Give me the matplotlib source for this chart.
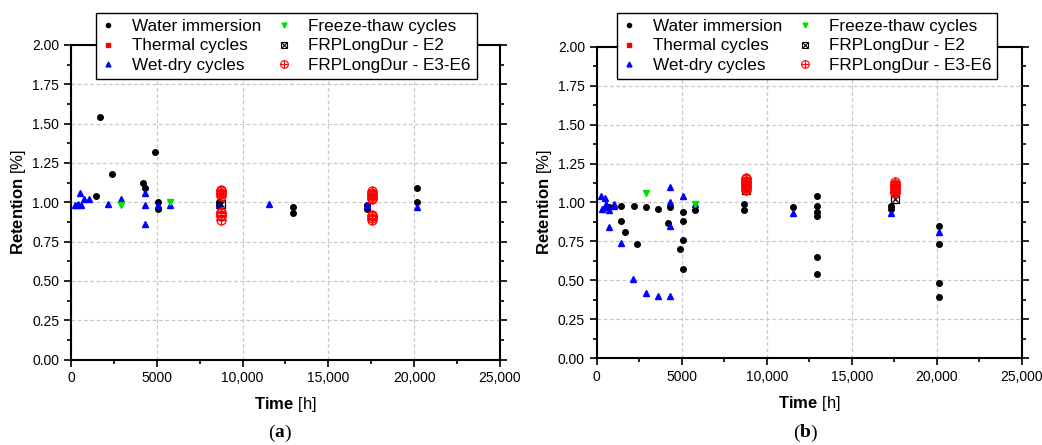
import matplotlib
matplotlib.use("Agg")
import matplotlib.pyplot as plt
from matplotlib.ticker import MultipleLocator, FuncFormatter
from matplotlib.legend_handler import HandlerTuple

plt.rcParams['font.family'] = ['Liberation Sans', 'DejaVu Sans']
plt.rcParams['mathtext.fontset'] = 'custom'
plt.rcParams['mathtext.bf'] = 'Liberation Sans:bold'
plt.rcParams['mathtext.rm'] = 'Liberation Sans'

#-----DATA (a)----------------------------------------------------
a_water_t = [1460, 1690, 2370, 4200, 4330, 4880, 5050, 5050, 8650, 8650,
             12960, 12960, 17280, 17280, 20160, 20160]
a_water_r = [1.04, 1.54, 1.18, 1.12, 1.09, 1.32, 1.00, 0.96, 1.00, 0.98,
             0.97, 0.93, 0.96, 0.98, 1.09, 1.00]
a_wetdry_t = [230, 330, 430, 525, 585, 760, 1050, 2180, 2900, 4330, 4330, 4330,
              5050, 5790, 8650, 11550, 17280, 20160]
a_wetdry_r = [0.98, 0.98, 0.99, 1.06, 0.98, 1.02, 1.02, 0.99, 1.02, 1.06, 0.98, 0.86,
              0.98, 0.98, 0.98, 0.99, 0.98, 0.97]
a_freeze_t = [2900, 5790]
a_freeze_r = [0.98, 1.00]
a_e2_t = [8760]
a_e2_r = [0.99]
a_e36_t = [8760] * 10 + [17530] * 10
a_e36_r = [1.08, 1.07, 1.06, 1.05, 1.04, 0.94, 0.93, 0.92, 0.91, 0.89,
           1.07, 1.06, 1.05, 1.04, 1.03, 1.02, 0.92, 0.91, 0.90, 0.89]

#-----DATA (b)----------------------------------------------------
b_water_t = [740, 1450, 2170, 2900, 3620, 4330, 5060, 5800, 1450, 1690, 2370,
             4210, 5060, 5060, 4880, 5060, 8650, 8650, 11530,
             12980, 12980, 12980, 12980, 12980, 12980, 17300, 17300,
             20150, 20150, 20150, 20150]
b_water_r = [0.97, 0.98, 0.98, 0.97, 0.96, 0.97, 0.94, 0.95, 0.88, 0.81, 0.73,
             0.87, 0.88, 0.76, 0.70, 0.57, 0.95, 0.99, 0.97,
             1.04, 0.98, 0.94, 0.91, 0.65, 0.54, 0.98, 0.96,
             0.85, 0.73, 0.48, 0.39]
b_wetdry_t = [250, 490, 530, 290, 530, 740, 1020, 1020, 740, 1450, 2150, 2900,
              3620, 4330, 4330, 4330, 4330, 5060, 5800, 11530, 17300, 20150]
b_wetdry_r = [1.04, 1.03, 0.99, 0.96, 0.97, 0.95, 0.99, 0.98, 0.84, 0.74, 0.51, 0.42,
              0.40, 0.40, 1.10, 1.00, 0.85, 1.04, 0.99, 0.93, 0.93, 0.81]
b_freeze_t = [2900, 5800]
b_freeze_r = [1.06, 0.99]
b_e2_t = [8760, 17550]
b_e2_r = [1.08, 1.02]
b_e36_t = [8760] * 9 + [17550] * 8
b_e36_r = [1.16, 1.15, 1.14, 1.13, 1.12, 1.11, 1.10, 1.09, 1.08,
           1.13, 1.12, 1.11, 1.10, 1.09, 1.08, 1.07, 1.06]
#-----/DATA-------------------------------------------------------

x_ticks = [0, 5000, 10000, 15000, 20000, 25000]
x_labels = ['0', '5000', '10,000', '15,000', '20,000', '25,000']


def draw_panel(ax, water, wetdry, freeze, e2, e36):
    ax.grid(True, which='major', color='#c8c8c8', linestyle=(0, (3, 2)), linewidth=0.9)
    ax.set_axisbelow(True)
    ax.plot(water[0], water[1], 'o', color='black', ms=4, zorder=3)
    ax.plot(wetdry[0], wetdry[1], '^', color='blue', ms=4.5, zorder=4)
    ax.plot(freeze[0], freeze[1], 'v', color='#00e000', ms=5, zorder=5)
    ax.plot(e2[0], e2[1], 's', mfc='none', mec='black', ms=6, mew=0.9, zorder=6)
    ax.plot(e2[0], e2[1], 'x', color='black', ms=5, mew=0.9, zorder=6)
    ax.plot(e36[0], e36[1], 'o', mfc='none', mec='red', ms=6.5, mew=0.9, zorder=7)
    ax.plot(e36[0], e36[1], '+', color='red', ms=6.5, mew=0.9, zorder=7)

    ax.set_xticks(x_ticks, x_labels)
    ax.set_xlim(0, 25000)
    ax.set_ylim(0, 2.0)
    ax.xaxis.set_minor_locator(MultipleLocator(2500))
    ax.yaxis.set_major_locator(MultipleLocator(0.25))
    ax.yaxis.set_minor_locator(MultipleLocator(0.125))
    ax.yaxis.set_major_formatter(FuncFormatter(lambda v, p: '%.2f' % v))
    ax.tick_params(which='both', direction='out', labelsize=10, width=1.2,
                   right=True, top=False)
    ax.tick_params(which='major', length=5)
    ax.tick_params(which='minor', length=3)
    for s in ax.spines.values():
        s.set_linewidth(1.5)
    ax.set_xlabel(r'$\mathbf{Time}$ [h]', fontsize=12, labelpad=7)
    ax.set_ylabel(r'$\mathbf{Retention}$ [%]', fontsize=12, labelpad=3)


fig = plt.figure(figsize=(10.42, 4.45), dpi=100)
ax_a = fig.add_axes([0.0681, 0.1921, 0.4117, 0.7068])
ax_b = fig.add_axes([0.5727, 0.1955, 0.4079, 0.6993])

draw_panel(ax_a, (a_water_t, a_water_r), (a_wetdry_t, a_wetdry_r),
           (a_freeze_t, a_freeze_r), (a_e2_t, a_e2_r), (a_e36_t, a_e36_r))
draw_panel(ax_b, (b_water_t, b_water_r), (b_wetdry_t, b_wetdry_r),
           (b_freeze_t, b_freeze_r), (b_e2_t, b_e2_r), (b_e36_t, b_e36_r))

# legend handles (no thermal-cycle points are visible, handle only)
h_water, = ax_a.plot([], [], 'o', color='black', ms=3)
h_therm, = ax_a.plot([], [], 's', color='red', ms=3)
h_wet, = ax_a.plot([], [], '^', color='blue', ms=3.5)
h_frz, = ax_a.plot([], [], 'v', color='#00e000', ms=3.5)
h_e2a, = ax_a.plot([], [], 's', mfc='none', mec='black', ms=5, mew=0.8)
h_e2b, = ax_a.plot([], [], 'x', color='black', ms=4, mew=0.8)
h_e3a, = ax_a.plot([], [], 'o', mfc='none', mec='red', ms=5.5, mew=0.8)
h_e3b, = ax_a.plot([], [], '+', color='red', ms=5.5, mew=0.8)
handles = [h_water, h_therm, h_wet, h_frz, (h_e2a, h_e2b), (h_e3a, h_e3b)]
labels = ['Water immersion', 'Thermal cycles', 'Wet-dry cycles',
          'Freeze-thaw cycles', 'FRPLongDur - E2', 'FRPLongDur - E3-E6']

for ax, left in [(ax_a, 0.0921), (ax_b, 0.592)]:
    leg = ax.legend(handles, labels, ncol=2, loc='upper left',
                    bbox_to_anchor=(left, 0.971), bbox_transform=fig.transFigure,
                    borderaxespad=0, fontsize=12.3, frameon=True, fancybox=False,
                    edgecolor='black', framealpha=1, borderpad=0.35, labelspacing=0.27,
                    handlelength=0.7, handletextpad=1.05, columnspacing=1.0,
                    handler_map={tuple: HandlerTuple(ndivide=1)})
    leg.get_frame().set_linewidth(1.0)
    leg.set_zorder(10)

# panel captions: "(" and ")" regular, the letter bold
for x0, letter in [(0.2716, 'a'), (0.7754, 'b')]:
    t1 = fig.text(x0 - 0.008, 0.027, '(', ha='right', va='center', fontsize=14,
                  family='Liberation Serif')
    t2 = fig.text(x0 - 0.008, 0.027, letter, ha='left', va='center', fontsize=14,
                  family='Liberation Serif', fontweight='bold')
    fig.canvas.draw()
    bb = t2.get_window_extent()
    fig.text(bb.x1 / fig.bbox.width, 0.027, ')', ha='left', va='center', fontsize=14,
             family='Liberation Serif')

fig.savefig('out.png', dpi=100)
